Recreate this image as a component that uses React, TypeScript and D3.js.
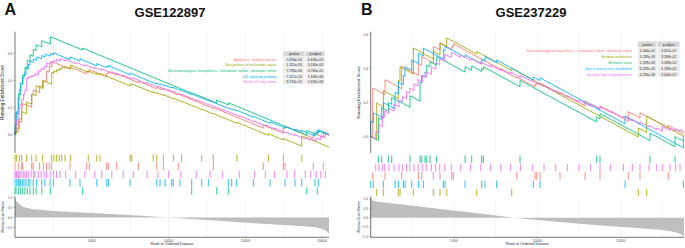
import React from "react";
import * as d3 from "d3";

const FONT = "'Liberation Sans', Arial, Helvetica, sans-serif";

type Step = [number, number, number]; // [rank, score before hit, score after hit]
type Pt = [number, number];

// ggplot2 hue palette
const RED = "#F8766D";
const OLIVE = "#A3A500";
const GREEN = "#00BF7D";
const BLUE = "#00B0F6";
const MAGENTA = "#E76BF3";

// ================= Panel A : GSE122897 =================
const A_TITLE = "GSE122897";
const A_N = 20440;
const A_NAMES = [
  "Apoptosis - multiple species",
  "Biosynthesis of nucleotide sugars",
  "Glycosaminoglycan biosynthesis - chondroitin sulfate / dermatan sulfate",
  "p53 signaling pathway",
  "Small cell lung cancer",
];
const A_COLORS = [RED, OLIVE, GREEN, BLUE, MAGENTA];
const A_PVALUE = ["3.694e-03", "1.115e-03", "7.796e-06", "7.117e-10", "8.724e-10"];
const A_PADJUST = ["6.634e-03", "3.240e-03", "4.763e-05", "1.149e-08", "1.420e-08"];
const A_RUG_ORDER = [1, 0, 4, 3, 2];
const A_X_TICKS = [5000, 10000, 15000, 20000];
const A_Y_TICKS = [0, 0.2, 0.4, 0.6];
const A_METRIC_TICKS = [-0.5, 0, 0.5, 1];

const A_APOPTOSIS: Step[] = [
  [0, 0, 0.03], [215, 0.02, 0.1], [435, 0.09, 0.2], [500, 0.197, 0.23], [1090, 0.202, 0.3],
  [1190, 0.295, 0.33], [1600, 0.31, 0.36], [1840, 0.349, 0.4], [2060, 0.39, 0.47],
  [2235, 0.462, 0.505], [2390, 0.498, 0.54], [3580, 0.484, 0.5], [4670, 0.449, 0.47],
  [4840, 0.462, 0.48], [5970, 0.427, 0.455], [6075, 0.45, 0.465], [6620, 0.44, 0.45],
  [8030, 0.384, 0.395], [9225, 0.339, 0.35], [9660, 0.33, 0.34], [10630, 0.294, 0.3],
  [12910, 0.193, 0.2], [16160, 0.047, 0.07], [17465, 0.009, 0.05], [17575, 0.045, 0.06],
  [19420, -0.027, 0.01], [20070, -0.021, 0.02], [20440, 0.003, 0.003],
];
const A_BIOSYNTHESIS: Step[] = [
  [0, 0, 0.01], [110, 0.005, 0.05], [280, 0.042, 0.12], [435, 0.113, 0.17], [760, 0.155, 0.24],
  [1090, 0.225, 0.3], [1370, 0.287, 0.36], [1800, 0.34, 0.4], [2390, 0.372, 0.46],
  [2540, 0.453, 0.47], [2710, 0.462, 0.48], [2880, 0.472, 0.49], [3040, 0.482, 0.5],
  [3255, 0.49, 0.505], [3620, 0.488, 0.515], [4770, 0.461, 0.47], [5320, 0.444, 0.452],
  [5530, 0.442, 0.452], [7490, 0.36, 0.37], [7600, 0.365, 0.375], [9000, 0.309, 0.316],
  [9225, 0.305, 0.31], [9660, 0.29, 0.295], [10310, 0.264, 0.268], [10850, 0.243, 0.246],
  [12150, 0.185, 0.188], [12910, 0.152, 0.155], [14450, 0.083, 0.09], [16500, -0.006, 0.005],
  [17470, -0.041, -0.03], [18670, -0.086, -0.01], [20440, -0.093, -0.093],
];
const A_GLYCOSAMINOGLYCAN: Step[] = [
  [0, 0, 0.02], [65, 0.017, 0.16], [215, 0.153, 0.3], [370, 0.293, 0.38], [500, 0.374, 0.44],
  [650, 0.433, 0.5], [800, 0.493, 0.55], [975, 0.542, 0.59], [1190, 0.58, 0.63],
  [1370, 0.622, 0.665], [1740, 0.648, 0.695], [2300, 0.669, 0.725], [4400, 0.626, 0.64],
  [11500, 0.306, 0.31], [13130, 0.233, 0.255], [13890, 0.219, 0.235], [18990, -0.005, 0.03],
  [19680, -0.002, 0.03], [20440, -0.006, -0.006],
];
const A_P53: Step[] = [
  [0, 0, 0.07], [110, 0.065, 0.17], [215, 0.165, 0.26], [280, 0.257, 0.33], [370, 0.326, 0.38],
  [500, 0.374, 0.42], [585, 0.416, 0.45], [715, 0.444, 0.49], [865, 0.483, 0.52],
  [975, 0.515, 0.545], [1190, 0.535, 0.56], [1410, 0.55, 0.575], [1740, 0.56, 0.585],
  [1950, 0.575, 0.595], [2280, 0.58, 0.6], [2495, 0.59, 0.605], [3580, 0.554, 0.575],
  [4230, 0.544, 0.56], [5320, 0.509, 0.525], [5970, 0.4945, 0.505], [6075, 0.5, 0.51],
  [7490, 0.443, 0.455], [9225, 0.373, 0.38], [9440, 0.37, 0.375], [9765, 0.36, 0.365],
  [10200, 0.345, 0.35], [10305, 0.345, 0.348], [10740, 0.328, 0.332], [11500, 0.296, 0.3],
  [12150, 0.269, 0.272], [12585, 0.251, 0.254], [13890, 0.193, 0.196], [14105, 0.186, 0.19],
  [14430, 0.175, 0.18], [15515, 0.129, 0.135], [16600, 0.084, 0.095], [17575, 0.049, 0.06],
  [18230, 0.029, 0.04], [18665, 0.02, 0.03], [19530, -0.011, 0.02], [19745, 0.01, 0.035],
  [20440, 0.002, 0.002],
];
const A_SCLC: Step[] = [
  [0, 0, 0.03], [60, 0.027, 0.07], [110, 0.068, 0.11], [200, 0.106, 0.15], [260, 0.147, 0.19],
  [325, 0.187, 0.22], [430, 0.215, 0.26], [560, 0.254, 0.3], [650, 0.296, 0.33],
  [760, 0.325, 0.42], [900, 0.413, 0.43], [1050, 0.423, 0.435], [1200, 0.428, 0.44],
  [1300, 0.435, 0.45], [1520, 0.44, 0.475], [1700, 0.467, 0.49], [1900, 0.48, 0.505],
  [2060, 0.497, 0.53], [2300, 0.519, 0.54], [2500, 0.53, 0.55], [2700, 0.54, 0.555],
  [2930, 0.544, 0.562], [3300, 0.545, 0.555], [3950, 0.524, 0.535], [4550, 0.507, 0.517],
  [5200, 0.486, 0.497], [5650, 0.476, 0.486], [6300, 0.455, 0.465], [7050, 0.43, 0.44],
  [7700, 0.409, 0.418], [8600, 0.376, 0.384], [9300, 0.351, 0.358], [10000, 0.325, 0.332],
  [10800, 0.294, 0.3], [11800, 0.253, 0.258], [12700, 0.216, 0.22], [13500, 0.182, 0.186],
  [14600, 0.134, 0.14], [15600, 0.093, 0.098], [16300, 0.065, 0.07], [16900, 0.042, 0.048],
  [17700, 0.01, 0.016], [18200, -0.008, 0], [18900, -0.033, -0.025], [19250, -0.041, -0.03],
  [19600, -0.046, -0.025], [19900, -0.039, -0.01], [20200, -0.024, 0.005],
  [20440, -0.006, -0.006],
];
const A_STEPS = [A_APOPTOSIS, A_BIOSYNTHESIS, A_GLYCOSAMINOGLYCAN, A_P53, A_SCLC];
const A_METRIC: Pt[] = [
  [0, 1.0], [60, 0.85], [215, 0.7], [540, 0.53], [1190, 0.41], [2500, 0.33], [4450, 0.25],
  [6840, 0.15], [8500, 0.07], [9900, 0.0], [11500, -0.07], [13000, -0.15], [15300, -0.28],
  [17500, -0.37], [18800, -0.44], [19640, -0.5], [20100, -0.6], [20300, -0.7], [20440, -0.82],
];

// ================= Panel B : GSE237229 =================
const B_TITLE = "GSE237229";
const B_N = 18800;
const B_NAMES = [
  "Glycosaminoglycan biosynthesis - chondroitin sulfate / dermatan sulfate",
  "Histidine metabolism",
  "Mismatch repair",
  "Starch and sucrose metabolism",
  "Systemic lupus erythematosus",
];
const B_COLORS = [RED, OLIVE, GREEN, BLUE, MAGENTA];
const B_PVALUE = ["1.056e-02", "5.139e-03", "1.159e-03", "5.233e-03", "4.255e-08"];
const B_PADJUST = ["3.052e-02", "3.288e-02", "3.289e-02", "5.188e-02", "5.534e-07"];
const B_RUG_ORDER = [2, 4, 0, 3, 1];
const B_X_TICKS = [5000, 10000, 15000];
const B_Y_TICKS = [0, 0.2, 0.4, 0.6];
const B_METRIC_TICKS = [-1, -0.5, 0, 0.5, 1];

const B_GLYCOSAMINOGLYCAN: Step[] = [
  [0, 0, 0], [120, -0.006, 0.285], [860, 0.246, 0.334], [1860, 0.281, 0.413], [2860, 0.36, 0.43],
  [3060, 0.419, 0.47], [3760, 0.433, 0.53], [4160, 0.509, 0.55], [4860, 0.513, 0.53],
  [4960, 0.525, 0.545], [8760, 0.344, 0.35], [9860, 0.292, 0.31], [9960, 0.305, 0.315],
  [10160, 0.304, 0.315], [11360, 0.251, 0.26], [12860, 0.18, 0.21], [13760, 0.162, 0.18],
  [15460, 0.09, 0.146], [16160, 0.109, 0.14], [17860, 0.05, 0.065], [18800, 0.015, 0.015],
];
const B_HISTIDINE: Step[] = [
  [0, 0, 0], [360, -0.019, 0.197], [760, 0.176, 0.27], [1660, 0.222, 0.33], [1760, 0.325, 0.41],
  [2560, 0.368, 0.52], [3760, 0.456, 0.5], [4160, 0.479, 0.55], [4560, 0.529, 0.58],
  [6360, 0.485, 0.5], [8460, 0.389, 0.4], [16060, -0.003, 0.05], [16560, 0.024, 0.12],
  [18800, 0.001, 0.001],
];
const B_MISMATCH: Step[] = [
  [0, 0, 0], [460, -0.024, 0.11], [660, 0.1, 0.17], [1060, 0.149, 0.2], [1260, 0.189, 0.23],
  [2360, 0.172, 0.24], [2960, 0.208, 0.32], [3060, 0.315, 0.36], [3260, 0.349, 0.38],
  [3360, 0.375, 0.42], [3560, 0.409, 0.44], [3960, 0.419, 0.47], [5660, 0.379, 0.41],
  [6060, 0.389, 0.415], [6660, 0.383, 0.4], [6760, 0.395, 0.41], [8960, 0.293, 0.33],
  [13560, 0.086, 0.115], [13760, 0.104, 0.135], [16760, -0.024, 0.02], [18260, -0.06, 0],
  [18800, -0.029, -0.029],
];
const B_STARCH: Step[] = [
  [0, 0, 0.09], [160, 0.082, 0.14], [760, 0.108, 0.2], [1460, 0.163, 0.26], [1660, 0.25, 0.32],
  [1960, 0.304, 0.36], [2060, 0.355, 0.41], [2460, 0.389, 0.45], [2860, 0.429, 0.49],
  [3160, 0.474, 0.52], [4360, 0.456, 0.51], [4460, 0.505, 0.53], [5660, 0.466, 0.48],
  [6660, 0.427, 0.455], [6860, 0.444, 0.47], [7560, 0.433, 0.45], [9760, 0.333, 0.35],
  [10160, 0.329, 0.345], [15260, 0.075, 0.12], [18760, -0.066, 0], [18800, -0.002, -0.002],
];
const B_SLE: Step[] = [
  [0, 0, 0], [300, -0.016, 0.03], [500, 0.019, 0.07], [700, 0.059, 0.12], [840, 0.113, 0.15],
  [1100, 0.136, 0.165], [1400, 0.149, 0.19], [1700, 0.174, 0.215], [1900, 0.204, 0.235],
  [2150, 0.222, 0.265], [2340, 0.255, 0.285], [2600, 0.271, 0.31], [2840, 0.297, 0.335],
  [3100, 0.321, 0.36], [3340, 0.347, 0.38], [3640, 0.364, 0.41], [3900, 0.396, 0.435],
  [4140, 0.422, 0.46], [4440, 0.444, 0.485], [4840, 0.464, 0.495], [5400, 0.465, 0.48],
  [6000, 0.448, 0.46], [6600, 0.428, 0.44], [7200, 0.408, 0.42], [7800, 0.388, 0.4],
  [8400, 0.368, 0.38], [9000, 0.348, 0.36], [9700, 0.323, 0.33], [10400, 0.293, 0.3],
  [11100, 0.263, 0.27], [11800, 0.233, 0.24], [12500, 0.203, 0.215], [13200, 0.178, 0.19],
  [13760, 0.16, 0.175], [14400, 0.141, 0.15], [15160, 0.11, 0.12], [15700, 0.091, 0.1],
  [16160, 0.076, 0.085], [16700, 0.056, 0.065], [17160, 0.041, 0.05], [17500, 0.032, 0.06],
  [17960, 0.036, 0.05], [18300, 0.032, 0.045], [18560, 0.031, 0.04], [18800, 0.027, 0.027],
];
const B_STEPS = [B_GLYCOSAMINOGLYCAN, B_HISTIDINE, B_MISMATCH, B_STARCH, B_SLE];
const B_METRIC: Pt[] = [
  [0, 1.05], [100, 0.93], [400, 0.86], [1000, 0.8], [2160, 0.68], [4160, 0.46], [6160, 0.27],
  [8560, 0.0], [10000, -0.12], [12160, -0.3], [14000, -0.43], [16160, -0.57], [17500, -0.66],
  [18160, -0.75], [18600, -0.87], [18800, -1.0],
];

// ================= layout (not data) =================
interface Layout {
  letterX: number;
  titleX: number;
  x0: number;
  x1: number;
  yZero: number;
  yPerUnit: number;
  mZero: number;
  mPerUnit: number;
  resTitleSize: number;
  tblHeaderTop: number;
  tblRowH: number;
  tblLabelRight: number;
  tblPvX: number;
  tblPvW: number;
  tblPaX: number;
  tblPaW: number;
  tblFont: number;
  rugTop: number;
  rugRowH: number;
}

const A_LAYOUT: Layout = {
  letterX: 4.5, titleX: 170, x0: 15, x1: 329, yZero: 134.5, yPerUnit: 135,
  mZero: 217.5, mPerUnit: 20, resTitleSize: 4.6,
  tblHeaderTop: 51.3, tblRowH: 5.6, tblLabelRight: 276.5, tblPvX: 283.3, tblPvW: 21.8,
  tblPaX: 305.6, tblPaW: 19.6, tblFont: 3.45, rugTop: 154, rugRowH: 8.2,
};
const B_LAYOUT: Layout = {
  letterX: 361, titleX: 531, x0: 370.7, x1: 684, yZero: 136.5, yPerUnit: 170,
  mZero: 217.7, mPerUnit: 18.65, resTitleSize: 4.4,
  tblHeaderTop: 41.5, tblRowH: 6.0, tblLabelRight: 632, tblPvX: 637.7, tblPvW: 19.4,
  tblPaX: 657.5, tblPaW: 22.5, tblFont: 3.35, rugTop: 155, rugRowH: 8.35,
};

const TOP_Y0 = 31.7;
const TOP_Y1 = 153;
const BOT_Y1 = 237.3;

function fmt(v: number): string {
  return d3.format(".1f")(v);
}

interface PanelProps {
  letter: string;
  title: string;
  n: number;
  names: string[];
  colors: string[];
  pvalue: string[];
  padjust: string[];
  steps: Step[][];
  rugOrder: number[];
  metric: Pt[];
  xTicks: number[];
  yTicks: number[];
  mTicks: number[];
  L: Layout;
}

function Panel(p: PanelProps) {
  const { L } = p;
  const x = d3.scaleLinear().domain([0, p.n]).range([L.x0, L.x1]);
  const y = d3.scaleLinear().domain([0, 1]).range([L.yZero, L.yZero - L.yPerUnit]);
  const m = d3.scaleLinear().domain([0, 1]).range([L.mZero, L.mZero - L.mPerUnit]);
  const botTop = 196.3;

  const line = d3
    .line<Pt>()
    .x((d) => x(d[0]))
    .y((d) => y(d[1]));
  const area = d3
    .area<Pt>()
    .x((d) => x(d[0]))
    .y0(m(0))
    .y1((d) => m(d[1]));

  const grid = d3.range(2500, p.n, 2500);
  const tickCol = "#4d4d4d";
  const axisCol = "#3a3a3a";

  return (
    <g>
      <text x={L.letterX} y={15} fontFamily={FONT} fontWeight="bold" fontSize={16} fill="#111">
        {p.letter}
      </text>
      <text x={L.titleX} y={16.5} fontFamily={FONT} fontWeight="bold" fontSize={13} fill="#111" textAnchor="middle">
        {p.title}
      </text>

      {/* top panel grid */}
      {grid.map((g) => (
        <line key={"tg" + g} x1={x(g)} x2={x(g)} y1={TOP_Y0} y2={TOP_Y1} stroke="#ebebeb" strokeWidth={0.6} />
      ))}

      {/* running enrichment score curves */}
      {p.steps.map((st, i) => {
        const pts: Pt[] = st.flatMap((s) => [[s[0], s[1]] as Pt, [s[0], s[2]] as Pt]);
        return <path key={"c" + i} d={line(pts) || ""} fill="none" stroke={p.colors[i]} strokeWidth={0.85} />;
      })}

      {/* y axis of top panel */}
      <line x1={L.x0} x2={L.x0} y1={TOP_Y0} y2={TOP_Y1} stroke={axisCol} strokeWidth={0.7} />
      {p.yTicks.map((t) => (
        <g key={"yt" + t}>
          <line x1={L.x0 - 1.2} x2={L.x0} y1={y(t)} y2={y(t)} stroke={axisCol} strokeWidth={0.4} />
          <text x={L.x0 - 2.6} y={y(t) + 1.2} fontFamily={FONT} fontSize={3.4} fill={tickCol} textAnchor="end">
            {fmt(t)}
          </text>
        </g>
      ))}
      <text
        transform={`translate(${L.x0 - 11},${(TOP_Y0 + TOP_Y1) / 2}) rotate(-90)`}
        fontFamily={FONT}
        fontSize={L.resTitleSize}
        fill="#222"
        textAnchor="middle"
      >
        Running Enrichment Score
      </text>

      {/* table */}
      <rect x={L.tblPvX} y={L.tblHeaderTop} width={L.tblPvW - 0.5} height={L.tblRowH - 0.5} fill="#d6d6d6" />
      <rect x={L.tblPaX} y={L.tblHeaderTop} width={L.tblPaW - 0.5} height={L.tblRowH - 0.5} fill="#d6d6d6" />
      <text x={L.tblPvX + L.tblPvW / 2} y={L.tblHeaderTop + L.tblRowH / 2 + 1.1} fontFamily={FONT} fontSize={L.tblFont} fill="#333" textAnchor="middle">
        pvalue
      </text>
      <text x={L.tblPaX + L.tblPaW / 2} y={L.tblHeaderTop + L.tblRowH / 2 + 1.1} fontFamily={FONT} fontSize={L.tblFont} fill="#333" textAnchor="middle">
        p.adjust
      </text>
      {p.names.map((nm, i) => {
        const top = L.tblHeaderTop + (i + 1) * L.tblRowH;
        const cy = top + L.tblRowH / 2 + 1.1;
        return (
          <g key={"row" + i}>
            <text x={L.tblLabelRight} y={cy} fontFamily={FONT} fontSize={L.tblFont} fill={p.colors[i]} textAnchor="end">
              {nm}
            </text>
            <rect x={L.tblPvX} y={top} width={L.tblPvW - 0.5} height={L.tblRowH - 0.5} fill="#ebebeb" />
            <rect x={L.tblPaX} y={top} width={L.tblPaW - 0.5} height={L.tblRowH - 0.5} fill="#ebebeb" />
            <text x={L.tblPvX + L.tblPvW / 2} y={cy} fontFamily={FONT} fontSize={L.tblFont} fill="#333" textAnchor="middle">
              {p.pvalue[i]}
            </text>
            <text x={L.tblPaX + L.tblPaW / 2} y={cy} fontFamily={FONT} fontSize={L.tblFont} fill="#333" textAnchor="middle">
              {p.padjust[i]}
            </text>
          </g>
        );
      })}

      {/* rug of gene-set hits */}
      {p.rugOrder.map((si, row) => {
        const yTop = L.rugTop + row * L.rugRowH;
        const hits = p.steps[si].filter((s) => s[2] > s[1]).map((s) => s[0]);
        return (
          <g key={"rug" + row}>
            {hits.map((h, k) => (
              <line
                key={k}
                x1={x(h)}
                x2={x(h)}
                y1={yTop + 0.4}
                y2={yTop + L.rugRowH - 0.4}
                stroke={p.colors[si]}
                strokeWidth={1.1}
                strokeOpacity={0.75}
              />
            ))}
          </g>
        );
      })}

      {/* ranked list metric */}
      {grid.map((g) => (
        <line key={"bg" + g} x1={x(g)} x2={x(g)} y1={botTop} y2={BOT_Y1} stroke="#ebebeb" strokeWidth={0.6} />
      ))}
      <path d={area(p.metric) || ""} fill="#bebebe" />
      <line x1={L.x0} x2={L.x0} y1={botTop} y2={BOT_Y1} stroke={axisCol} strokeWidth={0.7} />
      <line x1={L.x0} x2={L.x1} y1={BOT_Y1} y2={BOT_Y1} stroke={axisCol} strokeWidth={0.7} />
      {p.mTicks.map((t) => (
        <g key={"mt" + t}>
          <line x1={L.x0 - 1.2} x2={L.x0} y1={m(t)} y2={m(t)} stroke={axisCol} strokeWidth={0.4} />
          <text x={L.x0 - 2.6} y={m(t) + 1.2} fontFamily={FONT} fontSize={3.4} fill={tickCol} textAnchor="end">
            {fmt(t)}
          </text>
        </g>
      ))}
      {p.xTicks.map((t) => (
        <g key={"xt" + t}>
          <line x1={x(t)} x2={x(t)} y1={BOT_Y1} y2={BOT_Y1 + 1.2} stroke={axisCol} strokeWidth={0.4} />
          <text x={x(t)} y={BOT_Y1 + 4.4} fontFamily={FONT} fontSize={3.4} fill={tickCol} textAnchor="middle">
            {String(t)}
          </text>
        </g>
      ))}
      <text
        transform={`translate(${L.x0 - 11},${(botTop + BOT_Y1) / 2}) rotate(-90)`}
        fontFamily={FONT}
        fontSize={3.8}
        fill="#222"
        textAnchor="middle"
      >
        Ranked List Metric
      </text>
      <text x={(L.x0 + L.x1) / 2} y={245.3} fontFamily={FONT} fontSize={3.9} fill="#222" textAnchor="middle">
        Rank in Ordered Dataset
      </text>
    </g>
  );
}

export default function App() {
  return (
    <svg
      width={685}
      height={248}
      viewBox="0 0 685 248"
      style={{ position: "absolute", left: 0, top: 0, display: "block", background: "#fff" }}
    >
      <rect x={0} y={0} width={685} height={248} fill="#fff" />
      <Panel
        letter="A"
        title={A_TITLE}
        n={A_N}
        names={A_NAMES}
        colors={A_COLORS}
        pvalue={A_PVALUE}
        padjust={A_PADJUST}
        steps={A_STEPS}
        rugOrder={A_RUG_ORDER}
        metric={A_METRIC}
        xTicks={A_X_TICKS}
        yTicks={A_Y_TICKS}
        mTicks={A_METRIC_TICKS}
        L={A_LAYOUT}
      />
      <Panel
        letter="B"
        title={B_TITLE}
        n={B_N}
        names={B_NAMES}
        colors={B_COLORS}
        pvalue={B_PVALUE}
        padjust={B_PADJUST}
        steps={B_STEPS}
        rugOrder={B_RUG_ORDER}
        metric={B_METRIC}
        xTicks={B_X_TICKS}
        yTicks={B_Y_TICKS}
        mTicks={B_METRIC_TICKS}
        L={B_LAYOUT}
      />
    </svg>
  );
}
